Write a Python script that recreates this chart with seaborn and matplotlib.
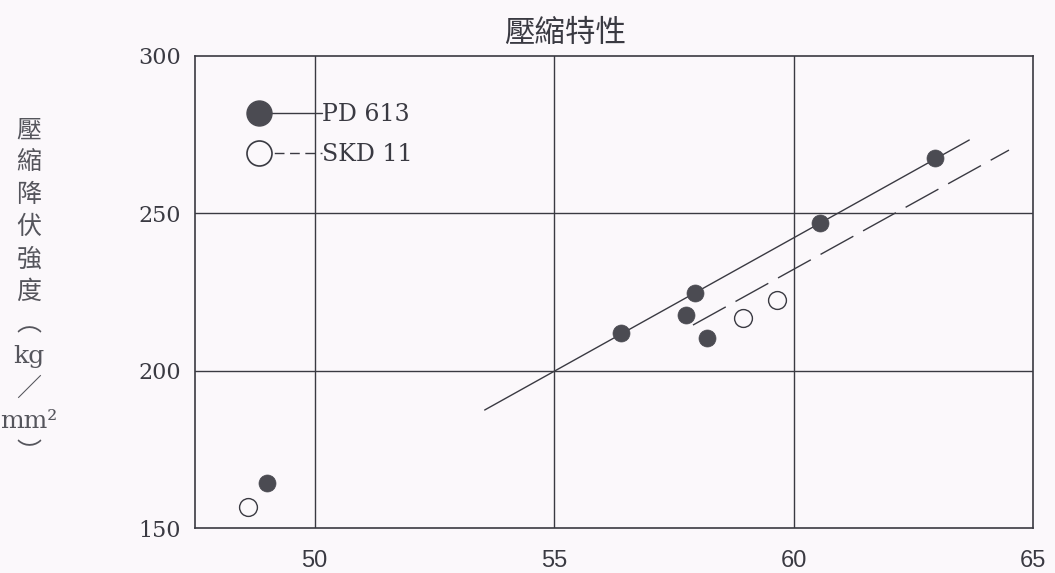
import numpy as np
import pandas as pd
import seaborn as sns
import matplotlib.pyplot as plt
from matplotlib.lines import Line2D
from matplotlib.legend_handler import HandlerLine2D

# hardness (HRC) vs compressive yield strength
pd613_hardness = [49.0, 56.4, 57.75, 57.95, 58.2, 60.55, 62.95]
pd613_strength = [164.2, 212.0, 217.7, 224.8, 210.5, 246.8, 267.5]
skd11_hardness = [48.6, 58.95, 59.65]
skd11_strength = [156.6, 216.8, 222.5]

# trend lines (end points)
pd613_fit_x = [53.55, 63.67]
pd613_fit_y = [187.5, 273.3]
skd11_fit_x = [57.9, 64.5]
skd11_fit_y = [214.5, 270.1]

x_ticks = [50, 55, 60, 65]
y_ticks = [150, 200, 250, 300]
x_grid = [50, 55, 60]
y_grid = [200, 250]

title = '壓縮特性'
ylabel = '壓\n縮\n降\n伏\n強\n度\n︵\nkg\n／\nmm²\n︶'

bg = '#fbf8fb'
ink = '#3a3a42'
fill = '#4b4b52'

sns.set_theme(style='white')
plt.rcParams['font.family'] = ['Noto Sans CJK TC', 'DejaVu Sans']


class MarkerFirstHandler(HandlerLine2D):
    """legend key with the marker at the left end of the line"""
    def create_artists(self, legend, orig_handle, xdescent, ydescent, width, height, fontsize, trans):
        artists = super().create_artists(legend, orig_handle, xdescent, ydescent,
                                         width, height, fontsize, trans)
        artists[0].set_markevery([0])
        return artists


fig = plt.figure(figsize=(10.55, 5.73), dpi=100, facecolor=bg)
ax = fig.add_axes([0.1848, 0.0785, 0.7943, 0.8238])
ax.set_facecolor(bg)

df_pd = pd.DataFrame({'hardness': pd613_hardness, 'strength': pd613_strength})
df_skd = pd.DataFrame({'hardness': skd11_hardness, 'strength': skd11_strength})

sns.lineplot(x=pd613_fit_x, y=pd613_fit_y, ax=ax, color=ink, linewidth=1.0, zorder=3)
sns.lineplot(x=skd11_fit_x, y=skd11_fit_y, ax=ax, color=ink, linewidth=1.0,
             linestyle=(0, (27, 8)), zorder=3)

sns.scatterplot(data=df_pd, x='hardness', y='strength', ax=ax, s=150,
                color=fill, edgecolor=fill, linewidth=0.5, zorder=4)
sns.scatterplot(data=df_skd, x='hardness', y='strength', ax=ax, s=165,
                facecolor=bg, edgecolor=ink, linewidth=1.0, zorder=4)

ax.set_xlim(47.5, 65)
ax.set_ylim(150, 300)
ax.set_xticks(x_ticks)
ax.set_yticks(y_ticks)
ax.set_xticklabels([str(v) for v in x_ticks], family='Liberation Sans', fontsize=17, color=ink)
ax.set_yticklabels([str(v) for v in y_ticks], family='DejaVu Serif', fontsize=16, color=ink)
ax.tick_params(axis='both', length=0)
ax.tick_params(axis='x', pad=16)
ax.tick_params(axis='y', pad=10)

# inner grid only
for v in x_grid:
    ax.axvline(v, color=ink, linewidth=1.0, zorder=1)
for v in y_grid:
    ax.axhline(v, color=ink, linewidth=1.0, zorder=1)

for side in ax.spines.values():
    side.set_color(ink)
    side.set_linewidth(1.2)

ax.set_xlabel('')
ax.set_ylabel(ylabel, rotation=0, fontsize=18, color='#55555c', linespacing=1.5,
              ha='center', va='center', family=['DejaVu Serif', 'Noto Sans CJK TC'])
ax.yaxis.set_label_coords(-0.198, 0.5)

ax.set_title(title, fontsize=22, color=ink, x=0.4415, pad=10)

# legend
h_pd = Line2D([], [], color=ink, linewidth=1.0, marker='o', markersize=18,
              markerfacecolor=fill, markeredgecolor=fill)
h_skd = Line2D([], [], color=ink, linewidth=1.0, linestyle=(0, (7, 4)), marker='o',
               markersize=18, markerfacecolor=bg, markeredgecolor=ink, markeredgewidth=1.2)
ax.legend([h_pd, h_skd], ['PD 613', 'SKD 11'], loc='upper left',
          bbox_to_anchor=(0.0764, 0.90), frameon=False, borderpad=0, borderaxespad=0,
          handlelength=2.67, handletextpad=0.0, labelspacing=0.72, numpoints=1,
          prop={'family': 'DejaVu Serif', 'size': 17},
          handler_map={Line2D: MarkerFirstHandler()}, labelcolor=ink)

fig.savefig('out.png', dpi=100, facecolor=bg)
